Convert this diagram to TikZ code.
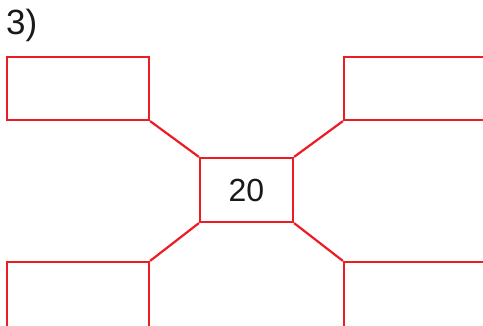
\documentclass[tikz,border=0pt]{standalone}
\usepackage{fontspec}
\setmainfont{Liberation Sans}
\usetikzlibrary{positioning}
\definecolor{boxred}{RGB}{237,28,36}

\begin{document}
\begin{tikzpicture}[
  x=1pt,y=-1pt,
  cell/.style={draw=boxred,line width=2.2pt,minimum width=142pt,minimum height=63pt,inner sep=0pt},
  hub/.style={draw=boxred,line width=2.2pt,minimum width=93pt,minimum height=64pt,inner sep=0pt,font=\fontsize{32}{36}\selectfont},
  spoke/.style={draw=boxred,line width=2.2pt},
  every node/.style={text=black!90}
]
  \useasboundingbox (0,0) rectangle (483,325);
  \clip (0,0) rectangle (483,325);

  \node[anchor=north west,inner sep=0pt,font=\fontsize{35}{38}\selectfont] (num) at (6,9) {3)};

  % centre box and the four outer boxes
  \node[hub] (mid) at (246.5,190) {20};
  \node[cell] (tl) at (78,88.5) {};
  \node[cell] (tr) at (415,88.5) {};
  \node[cell,minimum height=70pt] (bl) at (78,297) {};
  \node[cell,minimum height=70pt] (br) at (415,297) {};

  \draw[spoke] (mid.north west) -- (tl.south east);
  \draw[spoke] (mid.north east) -- (tr.south west);
  \draw[spoke] (mid.south west) -- (bl.north east);
  \draw[spoke] (mid.south east) -- (br.north west);
\end{tikzpicture}
\end{document}
